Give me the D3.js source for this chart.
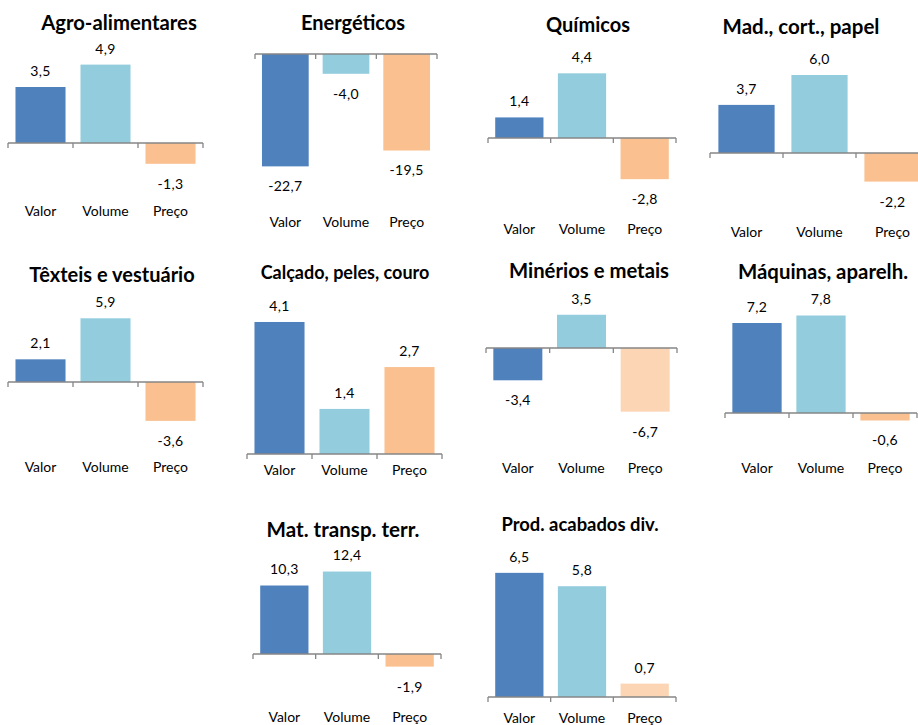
<!DOCTYPE html>
<html>
<head>
<meta charset="utf-8">
<script src="https://cdn.jsdelivr.net/npm/d3@7"></script>
<style>
  body { margin: 0; background: #fff; }
  svg { display: block; font-family: Lato, "Open Sans", sans-serif; }
</style>
</head>
<body>
<div id="chart"></div>
<script>
// dados — variação (%) por setor
const setores = ['Agro-alimentares', 'Energéticos', 'Químicos', 'Mad., cort., papel',
    'Têxteis e vestuário', 'Calçado,  peles, couro', 'Minérios e metais', 'Máquinas, aparelh.',
    'Mat. transp. terr.', 'Prod. acabados  div.'];
const componentes = ['Valor', 'Volume', 'Preço'];
const valor  = [3.5, -22.7, 1.4, 3.7, 2.1, 4.1, -3.4, 7.2, 10.3, 6.5];
const volume = [4.9, -4.0, 4.4, 6.0, 5.9, 1.4, 3.5, 7.8, 12.4, 5.8];
const preco  = [-1.3, -19.5, -2.8, -2.2, -3.6, 2.7, -6.7, -0.6, -1.9, 0.7];

// posição de cada painel (eixo x0..x1, linha do zero, px por unidade)
const paineis = [
    { x0: 8,   x1: 203, zero: 143, k: 16,   catY: 211, tx: 119, ty: 23,  fs: 20.3 },
    { x0: 255, x1: 437, zero: 54,  k: 4.95, catY: 222, tx: 353, ty: 23,  fs: 20 },
    { x0: 488, x1: 676, zero: 138, k: 14.7, catY: 229, tx: 588, ty: 25,  fs: 20 },
    { x0: 710, x1: 929, zero: 153, k: 13,   catY: 232, tx: 801, ty: 27,  fs: 20.5 },
    { x0: 8,   x1: 203, zero: 382, k: 10.8, catY: 467, tx: 112, ty: 275, fs: 20 },
    { x0: 247, x1: 442, zero: 454, k: 32.2, catY: 470, tx: 345, ty: 273, fs: 18 },
    { x0: 486, x1: 677, zero: 348, k: 9.5,  catY: 468, tx: 589, ty: 271, fs: 20.3 },
    { x0: 725, x1: 917, zero: 413, k: 12.5, catY: 468, tx: 823, ty: 272, fs: 20.4 },
    { x0: 253, x1: 441, zero: 654, k: 6.65, catY: 717, tx: 343, ty: 530, fs: 20.6 },
    { x0: 488, x1: 676, zero: 697, k: 19.1, catY: 718, tx: 580, ty: 525, fs: 18.4 }
];

const cores = { Valor: '#4f81bd', Volume: '#93cddd', 'Preço': '#fac090' };
const precoClaro = '#fcd5b5';
const claros = [6, 9]; // painéis com preço em tom mais claro

const fmt = v => d3.format('.1f')(v).replace('.', ',').replace('−', '-');

const svg = d3.select('#chart').append('svg')
    .attr('width', 918)
    .attr('height', 725);

setores.forEach((nome, i) => {
    const p = paineis[i];
    const dados = [
        { c: 'Valor', v: valor[i] },
        { c: 'Volume', v: volume[i] },
        { c: 'Preço', v: preco[i] }
    ];

    const x = d3.scaleBand().domain(componentes).range([p.x0, p.x1]).padding(0);
    const y = d3.scaleLinear().domain([0, 1]).range([p.zero, p.zero - p.k]);
    const bw = x.bandwidth() * 0.77;

    const g = svg.append('g');

    g.append('text')
        .attr('x', p.tx)
        .attr('y', p.ty)
        .attr('dy', '0.35em')
        .attr('text-anchor', 'middle')
        .attr('font-size', p.fs + 'px')
        .attr('font-weight', 'bold')
        .attr('fill', '#000')
        .text(nome);

    g.selectAll('rect')
        .data(dados)
        .enter()
        .append('rect')
        .attr('x', d => x(d.c) + (x.bandwidth() - bw) / 2)
        .attr('width', bw)
        .attr('y', d => Math.min(y(d.v), y(0)))
        .attr('height', d => Math.abs(y(d.v) - y(0)))
        .attr('fill', d => d.c === 'Preço' && claros.includes(i) ? precoClaro : cores[d.c]);

    // eixo no zero, com marcas entre categorias
    g.append('line')
        .attr('x1', p.x0).attr('x2', p.x1)
        .attr('y1', y(0)).attr('y2', y(0))
        .attr('stroke', '#868686')
        .attr('stroke-width', 1.3);

    const marcas = componentes.map(c => x(c)).concat([p.x1]);
    g.selectAll('line.marca')
        .data(marcas)
        .enter()
        .append('line')
        .attr('class', 'marca')
        .attr('x1', d => d).attr('x2', d => d)
        .attr('y1', y(0)).attr('y2', y(0) + 5)
        .attr('stroke', '#868686')
        .attr('stroke-width', 1.3);

    g.selectAll('text.rotulo')
        .data(dados)
        .enter()
        .append('text')
        .attr('class', 'rotulo')
        .attr('x', d => x(d.c) + x.bandwidth() / 2)
        .attr('y', d => d.v >= 0 ? y(d.v) - 16 : y(d.v) + 20)
        .attr('dy', '0.35em')
        .attr('text-anchor', 'middle')
        .attr('font-size', '14px')
        .attr('letter-spacing', '0.3px')
        .attr('fill', '#000')
        .text(d => fmt(d.v));

    g.selectAll('text.cat')
        .data(componentes)
        .enter()
        .append('text')
        .attr('class', 'cat')
        .attr('x', d => x(d) + x.bandwidth() / 2)
        .attr('y', p.catY)
        .attr('dy', '0.35em')
        .attr('text-anchor', 'middle')
        .attr('font-size', '14px')
        .attr('fill', '#000')
        .text(d => d);
});
</script>
</body>
</html>
